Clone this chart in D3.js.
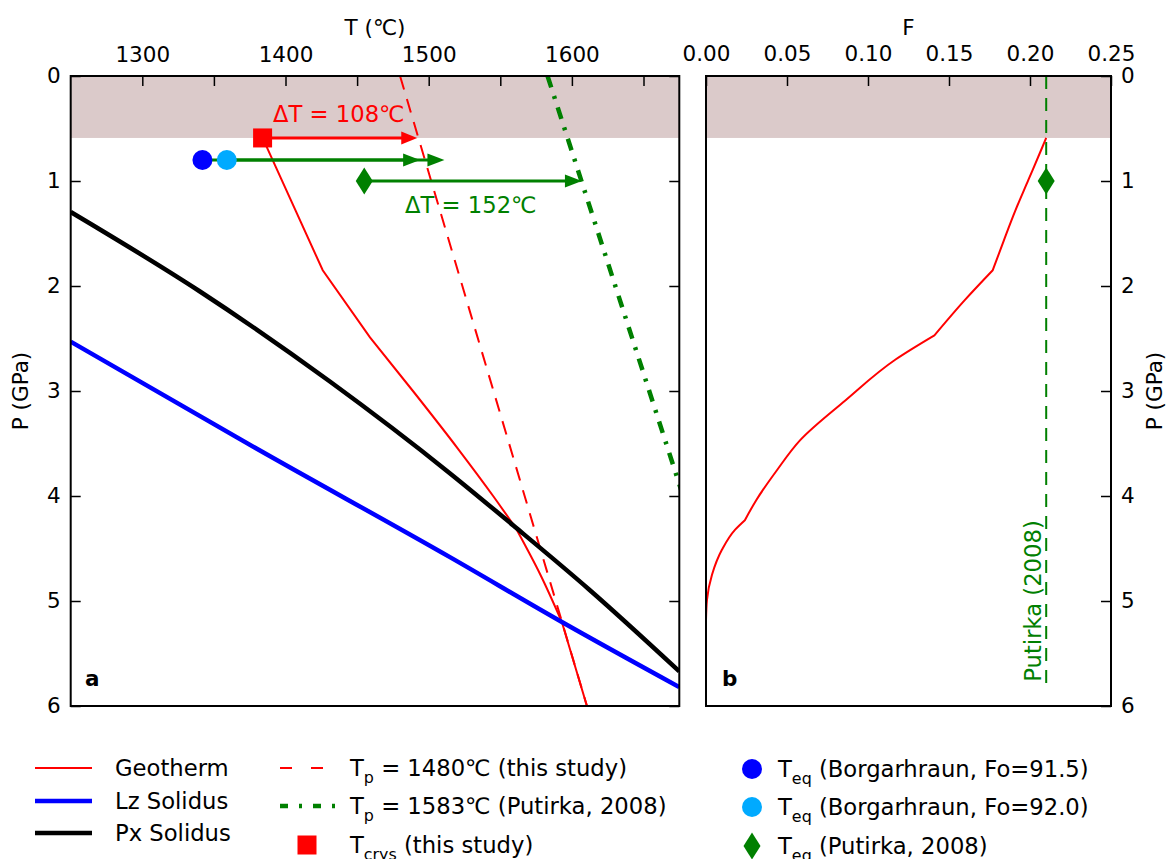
<!DOCTYPE html>
<html>
<head>
<meta charset="utf-8">
<script src="https://cdn.jsdelivr.net/npm/d3@7"></script>
<style>
  html, body { margin: 0; padding: 0; background: #fff; }
  svg { display: block; font-family: "DejaVu Sans", sans-serif; }
</style>
</head>
<body>
<svg id="chart" width="1166" height="859"></svg>
<script>
// ---- data ----
// Panel a: pressure (GPa) vs temperature (°C)
const geothermP = [0.59, 1.85, 2.49, 3.0, 3.56, 4.0, 4.31, 4.75, 5.2, 6.0];
const geothermT = [1384, 1426, 1459, 1489, 1521, 1545, 1561, 1578, 1593, 1610.5];
// indices where the geotherm changes regime (solidus crossings etc.)
const geothermBreaks = [0, 1, 2, 6, 8, 9];

const lzSolidusT = [1250, 1380, 1514.5, 1593, 1675];
const lzSolidusP = [2.53, 3.55, 4.58, 5.2, 5.82];

const pxSolidusT = [1250, 1340, 1431, 1514.5, 1560.8, 1612, 1675];
const pxSolidusP = [1.295, 2.05, 2.91, 3.78, 4.30, 4.89, 5.67];

const adiabat1480T = [1480, 1610.5];
const adiabat1480P = [0, 6];
const adiabat1583T = [1583, 1725];
const adiabat1583P = [0, 6];

const crustBaseP = 0.59;

// Crystallisation / equilibration estimates and their offsets to the adiabats
const tCrys = { T: 1384, P: 0.59, dT: 108 };
const tEqFo915 = { T: 1342, P: 0.8, dT: 152 };
const tEqFo920 = { T: 1359, P: 0.8, dT: 152 };
const tEqPutirka = { T: 1455, P: 1.0, dT: 152 };

// Panel b: melt fraction F along the geotherm
const meltP = [0.59, 0.70, 0.99, 1.28, 1.56, 1.85, 2.13, 2.47, 2.70, 3.09, 3.47, 3.75, 4.04, 4.23, 4.32, 4.51, 4.75, 4.99, 5.18, 6.0];
const meltF = [0.21, 0.207, 0.199, 0.191, 0.184, 0.177, 0.160, 0.141, 0.117, 0.086, 0.058, 0.044, 0.031, 0.024, 0.018, 0.0099, 0.0037, 0.0006, 0, 0];
const meltBreaks = [0, 5, 7, 13, 18, 19];
const putirkaF = 0.21;
const putirkaMaxP = 5.85;

// Axis ticks
const tempTicks = [1300, 1350, 1400, 1450, 1500, 1550, 1600, 1650];
const tempLabels = [1300, 1400, 1500, 1600];
const fTicks = [0, 0.05, 0.10, 0.15, 0.20, 0.25];
const pTicks = [0, 1, 2, 3, 4, 5, 6];

// ---- layout ----
const FS = 21.5;      // axis text
const FS_L = 22.7;    // legend and annotations
const svg = d3.select("#chart");
const A = { left: 70.7, right: 679.3 };
const B = { left: 706, right: 1111 };
const plotTop = 76, plotBottom = 706;

const xT = d3.scaleLinear().domain([1250, 1675]).range([A.left, A.right]);
const xF = d3.scaleLinear().domain([0, 0.25]).range([B.left, B.right]);
const yP = d3.scaleLinear().domain([0, 6]).range([plotTop, plotBottom]);

const RED = "#ff0000", BLUE = "#0000ff", GREEN = "#008000", LIGHTBLUE = "#00aaff", CRUST = "#dbcaca";

const defs = svg.append("defs");
defs.append("clipPath").attr("id", "clipA").append("rect")
  .attr("x", A.left).attr("y", plotTop).attr("width", A.right - A.left).attr("height", plotBottom - plotTop);
defs.append("clipPath").attr("id", "clipB").append("rect")
  .attr("x", B.left).attr("y", plotTop).attr("width", B.right - B.left).attr("height", plotBottom - plotTop);

const gA = svg.append("g").attr("clip-path", "url(#clipA)");
const gB = svg.append("g").attr("clip-path", "url(#clipB)");

// crust band
gA.append("rect").attr("x", A.left).attr("y", yP(0))
  .attr("width", A.right - A.left).attr("height", yP(crustBaseP) - yP(0)).attr("fill", CRUST);
gB.append("rect").attr("x", B.left).attr("y", yP(0))
  .attr("width", B.right - B.left).attr("height", yP(crustBaseP) - yP(0)).attr("fill", CRUST);

const zip = (a, b) => a.map((v, i) => [v, b[i]]);
const lineTP = d3.line().x(d => xT(d[0])).y(d => yP(d[1]));
const curveTPx = d3.line().curve(d3.curveMonotoneX).x(d => xT(d[0])).y(d => yP(d[1]));
const curveTPy = d3.line().curve(d3.curveMonotoneY).x(d => xT(d[0])).y(d => yP(d[1]));
const lineFP = d3.line().x(d => xF(d[0])).y(d => yP(d[1]));
const curveFPy = d3.line().curve(d3.curveMonotoneY).x(d => xF(d[0])).y(d => yP(d[1]));

// joins smooth pieces between break indices into one path
function piecewise(points, breaks, gen) {
  let d = "";
  for (let i = 0; i < breaks.length - 1; i++) {
    const seg = gen(points.slice(breaks[i], breaks[i + 1] + 1));
    d += i === 0 ? seg : seg.replace(/^M/, "L");
  }
  return d;
}

// adiabats
gA.append("path").attr("d", lineTP(zip(adiabat1480T, adiabat1480P)))
  .attr("fill", "none").attr("stroke", RED).attr("stroke-width", 2).attr("stroke-dasharray", "14,10");
gA.append("path").attr("d", lineTP(zip(adiabat1583T, adiabat1583P)))
  .attr("fill", "none").attr("stroke", GREEN).attr("stroke-width", 4.5).attr("stroke-dasharray", "12,9,3,9");

// geotherm and solidi
gA.append("path").attr("d", piecewise(zip(geothermT, geothermP), geothermBreaks, curveTPy))
  .attr("fill", "none").attr("stroke", RED).attr("stroke-width", 2);
gA.append("path").attr("d", curveTPx(zip(lzSolidusT, lzSolidusP)))
  .attr("fill", "none").attr("stroke", BLUE).attr("stroke-width", 4.5);
gA.append("path").attr("d", curveTPx(zip(pxSolidusT, pxSolidusP)))
  .attr("fill", "none").attr("stroke", "#000").attr("stroke-width", 4.5);

// arrows from each estimate to the adiabat
function arrow(g, t0, t1, p, color, width, headLen, headHalf) {
  const x0 = xT(t0), x1 = xT(t1), y = yP(p);
  g.append("line").attr("x1", x0).attr("x2", x1 - headLen + 1).attr("y1", y).attr("y2", y)
    .attr("stroke", color).attr("stroke-width", width);
  g.append("path").attr("d", `M${x1},${y}L${x1 - headLen},${y - headHalf}L${x1 - headLen},${y + headHalf}Z`)
    .attr("fill", color);
}
arrow(gA, tCrys.T, tCrys.T + tCrys.dT, tCrys.P, RED, 3, 16, 6.5);
arrow(gA, tEqFo915.T, tEqFo915.T + tEqFo915.dT, tEqFo915.P, GREEN, 3, 17, 6.5);
arrow(gA, tEqFo920.T, tEqFo920.T + tEqFo920.dT, tEqFo920.P, GREEN, 3, 17, 6.5);
arrow(gA, tEqPutirka.T, tEqPutirka.T + tEqPutirka.dT, tEqPutirka.P, GREEN, 3, 17, 6.5);

// markers
function square(g, cx, cy, s, color) {
  g.append("rect").attr("x", cx - s / 2).attr("y", cy - s / 2).attr("width", s).attr("height", s).attr("fill", color);
}
function diamond(g, cx, cy, w, h, color) {
  g.append("path").attr("d", `M${cx},${cy - h / 2}L${cx + w / 2},${cy}L${cx},${cy + h / 2}L${cx - w / 2},${cy}Z`).attr("fill", color);
}
square(svg, xT(tCrys.T), yP(tCrys.P), 19, RED);
svg.append("circle").attr("cx", xT(tEqFo915.T)).attr("cy", yP(tEqFo915.P)).attr("r", 10).attr("fill", BLUE);
svg.append("circle").attr("cx", xT(tEqFo920.T)).attr("cy", yP(tEqFo920.P)).attr("r", 10).attr("fill", LIGHTBLUE);
diamond(svg, xT(tEqPutirka.T), yP(tEqPutirka.P), 17, 27, GREEN);

// ΔT annotations
svg.append("text").attr("x", 273).attr("y", 122).attr("fill", RED).attr("font-size", FS_L)
  .text(`ΔT = ${tCrys.dT}℃`);
svg.append("text").attr("x", 405).attr("y", 213).attr("fill", GREEN).attr("font-size", FS_L)
  .text(`ΔT = ${tEqPutirka.dT}℃`);

// ---- panel b ----
gB.append("path").attr("d", lineFP([[putirkaF, 0], [putirkaF, putirkaMaxP]]))
  .attr("fill", "none").attr("stroke", GREEN).attr("stroke-width", 2).attr("stroke-dasharray", "13,9");
gB.append("path").attr("d", piecewise(zip(meltF, meltP), meltBreaks, curveFPy))
  .attr("fill", "none").attr("stroke", RED).attr("stroke-width", 2);
diamond(svg, xF(putirkaF), yP(tEqPutirka.P), 17, 27, GREEN);
svg.append("text").attr("transform", `translate(${xF(putirkaF) - 5},601) rotate(-90)`)
  .attr("text-anchor", "middle").attr("fill", GREEN).attr("font-size", FS_L).text("Putirka (2008)");

// ---- axes ----
function styleAxis(g) {
  g.select(".domain").remove();
  g.selectAll(".tick line").attr("stroke", "#000").attr("stroke-width", 1.5);
  g.selectAll(".tick text").attr("fill", "#000").attr("font-size", FS).attr("font-family", "DejaVu Sans, sans-serif");
}
svg.append("g").attr("transform", `translate(0,${plotTop})`)
  .call(d3.axisTop(xT).tickValues(tempTicks).tickSize(-10).tickPadding(14)
    .tickFormat(d => tempLabels.includes(d) ? d : ""))
  .call(styleAxis);
svg.append("g").attr("transform", `translate(0,${plotTop})`)
  .call(d3.axisTop(xF).tickValues(fTicks).tickSize(-10).tickPadding(15).tickFormat(d3.format(".2f")))
  .call(styleAxis);
svg.append("g").attr("transform", `translate(${A.left},0)`)
  .call(d3.axisLeft(yP).tickValues(pTicks).tickSize(-10).tickPadding(10).tickFormat(d3.format("d")))
  .call(styleAxis);
svg.append("g").attr("transform", `translate(${A.right},0)`)
  .call(d3.axisRight(yP).tickValues(pTicks).tickSize(-10).tickFormat(""))
  .call(styleAxis);
svg.append("g").attr("transform", `translate(${B.right},0)`)
  .call(d3.axisRight(yP).tickValues(pTicks).tickSize(-10).tickPadding(10).tickFormat(d3.format("d")))
  .call(styleAxis);

// frames
[A, B].forEach(p => {
  svg.append("rect").attr("x", p.left).attr("y", plotTop).attr("width", p.right - p.left).attr("height", plotBottom - plotTop)
    .attr("fill", "none").attr("stroke", "#000").attr("stroke-width", 2);
});

// axis titles and panel letters
svg.append("text").attr("x", (A.left + A.right) / 2).attr("y", 35).attr("text-anchor", "middle").attr("font-size", FS).text("T (℃)");
svg.append("text").attr("x", (B.left + B.right) / 2).attr("y", 35).attr("text-anchor", "middle").attr("font-size", FS).text("F");
svg.append("text").attr("transform", `translate(28,${(plotTop + plotBottom) / 2}) rotate(-90)`).attr("text-anchor", "middle").attr("font-size", FS).text("P (GPa)");
svg.append("text").attr("transform", `translate(1162,${(plotTop + plotBottom) / 2}) rotate(-90)`).attr("text-anchor", "middle").attr("font-size", FS).text("P (GPa)");
svg.append("text").attr("x", 85).attr("y", 686).attr("font-size", FS).attr("font-weight", "bold").text("a");
svg.append("text").attr("x", 722).attr("y", 686).attr("font-size", FS).attr("font-weight", "bold").text("b");

// ---- legend ----
const leg = svg.append("g");
function legText(x, y, main, sub, rest) {
  const t = leg.append("text").attr("x", x).attr("y", y).attr("dy", "0.35em").attr("font-size", FS_L);
  t.append("tspan").text(main);
  if (sub) {
    t.append("tspan").attr("font-size", FS_L * 0.7).attr("dy", "0.45em").text(sub);
    t.append("tspan").attr("dy", "-0.31em").text(rest);
  }
}
function legLine(x0, x1, y, color, w, dash) {
  const l = leg.append("line").attr("x1", x0).attr("x2", x1).attr("y1", y).attr("y2", y)
    .attr("stroke", color).attr("stroke-width", w);
  if (dash) l.attr("stroke-dasharray", dash);
}
legLine(35, 92, 768, RED, 2);
legText(115, 768, "Geotherm");
legLine(35, 92, 801, BLUE, 4.5);
legText(115, 801, "Lz Solidus");
legLine(35, 92, 833, "#000", 4.5);
legText(115, 833, "Px Solidus");

legLine(280, 337, 768, RED, 2, "12,19");
legText(350, 768, "T", "p", ` = ${adiabat1480T[0]}℃ (this study)`);
legLine(280, 337, 806, GREEN, 4.5, "8,11,3,11");
legText(350, 806, "T", "p", ` = ${adiabat1583T[0]}℃ (Putirka, 2008)`);
square(leg, 307, 845, 19, RED);
legText(350, 845, "T", "crys", " (this study)");

leg.append("circle").attr("cx", 752).attr("cy", 769).attr("r", 10).attr("fill", BLUE);
legText(778, 769, "T", "eq", " (Borgarhraun, Fo=91.5)");
leg.append("circle").attr("cx", 752).attr("cy", 807).attr("r", 10).attr("fill", LIGHTBLUE);
legText(778, 807, "T", "eq", " (Borgarhraun, Fo=92.0)");
diamond(leg, 752, 846, 17, 27, GREEN);
legText(778, 846, "T", "eq", " (Putirka, 2008)");
</script>
</body>
</html>
